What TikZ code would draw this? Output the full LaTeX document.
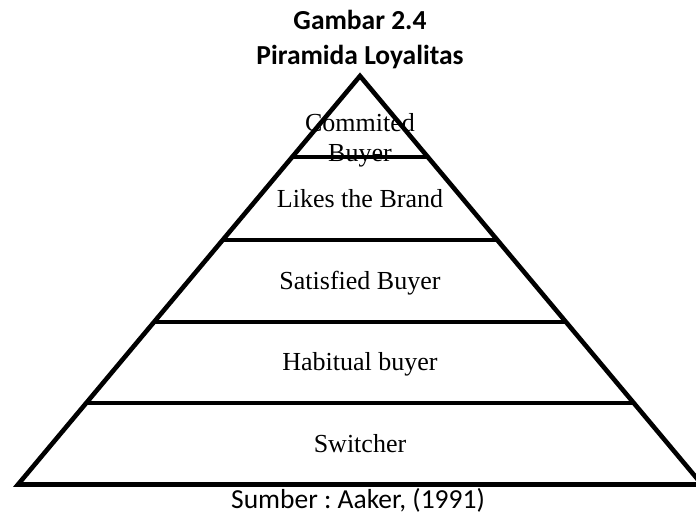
\documentclass[tikz,border=0pt]{standalone}
\usepackage{fontspec}
\usetikzlibrary{calc}
\setmainfont{Liberation Serif}
\newfontfamily\calibrifont{Carlito}
\frenchspacing
\begin{document}
\begin{tikzpicture}[x=1pt,y=-1pt,
  edge/.style={line width=4.6pt, line join=miter},
  lbl/.style={anchor=base, font=\fontsize{26}{30}\selectfont, inner sep=0pt},
  ttl/.style={anchor=base, font=\calibrifont\bfseries\fontsize{27.5}{35}\selectfont, inner sep=0pt},
  src/.style={anchor=base, font=\calibrifont\fontsize{27.5}{34}\selectfont, inner sep=0pt}]
\useasboundingbox (0,0) rectangle (696,515);
% titles
\node[ttl] (t1) at (360,29) {Gambar 2.4};
\node[ttl] (t2) at (360,64) {Piramida Loyalitas};
% level labels (drawn first so the lines lie over them)
\node[lbl] (l1a) at (360,131) {Commited};
\node[lbl] (l1b) at (360,161) {Buyer};
\node[lbl] (l2) at (360,207) {Likes the Brand};
\node[lbl] (l3) at (360,289) {Satisfied Buyer};
\node[lbl] (l4) at (360,370) {Habitual buyer};
\node[lbl] (l5) at (360,452) {Switcher};
% pyramid
\coordinate (apex) at (360,76);
\coordinate (bl) at (18,484.5);
\coordinate (br) at (702,484.5);
\draw[edge] (apex) -- (bl) -- (br) -- cycle;
\foreach \y in {157,240,322,403}{
  \draw[edge] ($(apex)!{(\y-76)/408.5}!(bl)$) -- ($(apex)!{(\y-76)/408.5}!(br)$);
}
% source
\node[src] (s) at (358,508) {Sumber : Aaker, (1991)};
\end{tikzpicture}
\end{document}
